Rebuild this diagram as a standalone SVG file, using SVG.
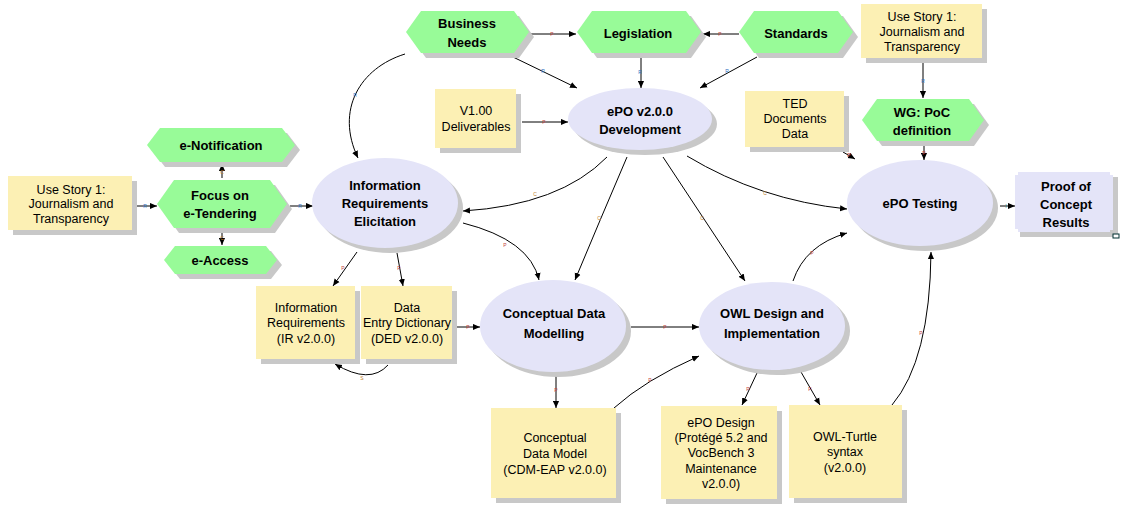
<svg xmlns="http://www.w3.org/2000/svg" width="1124" height="532" viewBox="0 0 1124 532">
<defs>
<marker id="ah" viewBox="0 0 8 8" refX="8" refY="4" markerWidth="7" markerHeight="7" markerUnits="userSpaceOnUse" orient="auto">
<path d="M0,0.5 L8,4 L0,7.5 z" fill="#000"/>
</marker>
</defs>
<style>
.sh{fill:#C8C8C8}
.hex{fill:#98FB98}
.box{fill:#FCF0B4}
.ell{fill:#E4E4F8}
.bt{font-family:"Liberation Sans",Arial,sans-serif;font-size:13px;font-weight:bold;fill:#000;text-anchor:middle}
.nt{font-family:"Liberation Sans",Arial,sans-serif;font-size:12.5px;fill:#000;text-anchor:middle}
.cn{fill:none;stroke:#000;stroke-width:1;marker-end:url(#ah)}
.lb{font-family:"Liberation Sans",Arial,sans-serif;font-size:5px;text-anchor:middle}
.p{fill:#C04040}.r{fill:#3070C0}.c{fill:#C08030}.i{fill:#208080}
</style>
<rect width="1124" height="532" fill="#fff"/>

<g id="connectors">
<path class="cn" d="M531,34 L576,34"/>
<path class="cn" d="M739,34 L703,34"/>
<path class="cn" d="M513,57 L577,88"/>
<path class="cn" d="M641,57 L641,88"/>
<path class="cn" d="M757,57 L700,88"/>
<path class="cn" d="M522,122 L568,122"/>
<path class="cn" d="M843,152 L855,159"/>
<path class="cn" d="M923,62 L923,98"/>
<path class="cn" d="M924,145 L924,160"/>
<path class="cn" d="M137,206 L157,206"/>
<path class="cn" d="M222,178 L222,164"/>
<path class="cn" d="M222,231 L222,245"/>
<path class="cn" d="M290,206 L313,206"/>
<path class="cn" d="M405,54 C360,68 335,110 358,158"/>
<path class="cn" d="M607,157 Q560,205 463,211"/>
<path class="cn" d="M627,157 Q600,220 575,280"/>
<path class="cn" d="M463,223 Q530,240 539,280"/>
<path class="cn" d="M357,252 L333,286"/>
<path class="cn" d="M397,253 L403,286"/>
<path class="cn" d="M388,365 Q370,385 335,364"/>
<path class="cn" d="M457,327 L480,327"/>
<path class="cn" d="M556,373 L556,408"/>
<path class="cn" d="M614,408 Q645,380 699,356"/>
<path class="cn" d="M631,327 L699,327"/>
<path class="cn" d="M663,157 L745,281"/>
<path class="cn" d="M687,156 Q760,200 847,209"/>
<path class="cn" d="M793,281 Q805,245 847,233"/>
<path class="cn" d="M892,405 Q930,360 931,252"/>
<path class="cn" d="M757,373 L742,405"/>
<path class="cn" d="M801,372 L820,405"/>
<path class="cn" d="M1000,206 L1015,206"/>
<text class="lb p" x="552" y="36">P</text>
<text class="lb p" x="720" y="36">P</text>
<text class="lb r" x="543" y="73">R</text>
<text class="lb r" x="640" y="74">R</text>
<text class="lb r" x="727" y="73">R</text>
<text class="lb p" x="544" y="124">P</text>
<text class="lb p" x="849" y="157">P</text>
<text class="lb r" x="923" y="83">R</text>
<text class="lb p" x="924" y="155">P</text>
<text class="lb r" x="145" y="208">R</text>
<text class="lb c" x="222" y="174">C</text>
<text class="lb c" x="222" y="240">C</text>
<text class="lb r" x="300" y="208">R</text>
<text class="lb r" x="355" y="97">R</text>
<text class="lb c" x="535" y="196">C</text>
<text class="lb c" x="599" y="220">C</text>
<text class="lb p" x="505" y="247">P</text>
<text class="lb p" x="343" y="270">P</text>
<text class="lb p" x="399" y="270">P</text>
<text class="lb c" x="362" y="380">S</text>
<text class="lb p" x="468" y="329">P</text>
<text class="lb p" x="556" y="392">P</text>
<text class="lb p" x="650" y="382">P</text>
<text class="lb p" x="665" y="329">P</text>
<text class="lb c" x="702" y="220">C</text>
<text class="lb c" x="765" y="195">C</text>
<text class="lb p" x="812" y="255">P</text>
<text class="lb p" x="921" y="335">P</text>
<text class="lb p" x="748" y="391">P</text>
<text class="lb p" x="810" y="391">P</text>
<text class="lb i" x="1006" y="208">I</text>
</g>

<g id="business-needs">
<polygon class="sh" points="411,37 426,16 519,16 534,37 519,58 426,58"/>
<polygon class="hex" points="406,32 421,11 514,11 529,32 514,53 421,53"/>
<text class="bt" x="467" y="27.5">Business</text>
<text class="bt" x="467" y="46.5">Needs</text>
</g>
<g id="legislation">
<polygon class="sh" points="582,37 597,16 691,16 706,37 691,58 597,58"/>
<polygon class="hex" points="577,32 592,11 686,11 701,32 686,53 592,53"/>
<text class="bt" x="638" y="37.5">Legislation</text>
</g>
<g id="standards">
<polygon class="sh" points="744,37 759,16 843,16 858,37 843,58 759,58"/>
<polygon class="hex" points="739,32 754,11 838,11 853,32 838,53 754,53"/>
<text class="bt" x="796" y="37.5">Standards</text>
</g>
<g id="use-story-top">
<rect class="sh" x="866" y="9" width="121" height="54"/>
<rect class="box" x="861" y="4" width="121" height="54"/>
<text class="nt" x="922" y="21">Use Story 1:</text>
<text class="nt" x="922" y="36">Journalism and</text>
<text class="nt" x="922" y="51">Transparency</text>
</g>
<g id="wg-poc">
<polygon class="sh" points="867,125 882,104 974,104 989,125 974,146 882,146"/>
<polygon class="hex" points="862,120 877,99 969,99 984,120 969,141 877,141"/>
<text class="bt" x="922" y="116.5">WG: PoC</text>
<text class="bt" x="922" y="134.5">definition</text>
</g>
<g id="v100">
<rect class="sh" x="440" y="94" width="81" height="59"/>
<rect class="box" x="435" y="89" width="81" height="59"/>
<text class="nt" x="476" y="115">V1.00</text>
<text class="nt" x="476" y="131">Deliverables</text>
</g>
<g id="epo-dev">
<ellipse class="sh" cx="645" cy="124" rx="72" ry="31"/>
<ellipse class="ell" cx="640" cy="119" rx="72" ry="31"/>
<text class="bt" x="640" y="115.5">ePO v2.0.0</text>
<text class="bt" x="640" y="133.5">Development</text>
</g>
<g id="ted">
<rect class="sh" x="750" y="96" width="99" height="56"/>
<rect class="box" x="745" y="91" width="99" height="56"/>
<text class="nt" x="795" y="108">TED</text>
<text class="nt" x="795" y="123">Documents</text>
<text class="nt" x="795" y="138">Data</text>
</g>
<g id="use-story-left">
<rect class="sh" x="13" y="181" width="124" height="54"/>
<rect class="box" x="8" y="176" width="124" height="54"/>
<text class="nt" x="71" y="194">Use Story 1:</text>
<text class="nt" x="71" y="208">Journalism and</text>
<text class="nt" x="71" y="223">Transparency</text>
</g>
<g id="e-notification">
<polygon class="sh" points="152,150 165,133 287,133 300,150 287,167 165,167"/>
<polygon class="hex" points="147,145 160,128 282,128 295,145 282,162 160,162"/>
<text class="bt" x="221" y="149.5">e-Notification</text>
</g>
<g id="focus">
<polygon class="sh" points="162,209 179,185 275,185 292,209 275,233 179,233"/>
<polygon class="hex" points="157,204 174,180 270,180 287,204 270,228 174,228"/>
<text class="bt" x="220" y="199.5">Focus on</text>
<text class="bt" x="220" y="217.5">e-Tendering</text>
</g>
<g id="e-access">
<polygon class="sh" points="169,265 180,251 271,251 282,265 271,279 180,279"/>
<polygon class="hex" points="164,260 175,246 266,246 277,260 266,274 175,274"/>
<text class="bt" x="220" y="264.5">e-Access</text>
</g>
<g id="ire">
<ellipse class="sh" cx="390" cy="208" rx="73" ry="45"/>
<ellipse class="ell" cx="385" cy="203" rx="73" ry="45"/>
<text class="bt" x="385" y="189.5">Information</text>
<text class="bt" x="385" y="207.5">Requirements</text>
<text class="bt" x="385" y="225.5">Elicitation</text>
</g>
<g id="ir">
<rect class="sh" x="261" y="291" width="99" height="73"/>
<rect class="box" x="256" y="286" width="99" height="73"/>
<text class="nt" x="306" y="312">Information</text>
<text class="nt" x="306" y="327">Requirements</text>
<text class="nt" x="306" y="343">(IR v2.0.0)</text>
</g>
<g id="ded">
<rect class="sh" x="366" y="291" width="91" height="73"/>
<rect class="box" x="361" y="286" width="91" height="73"/>
<text class="nt" x="407" y="312">Data</text>
<text class="nt" x="407" y="327">Entry Dictionary</text>
<text class="nt" x="407" y="343">(DED v2.0.0)</text>
</g>
<g id="cdm">
<ellipse class="sh" cx="558" cy="331" rx="73" ry="46"/>
<ellipse class="ell" cx="553" cy="326" rx="73" ry="46"/>
<text class="bt" x="554" y="317.5">Conceptual Data</text>
<text class="bt" x="554" y="337.5">Modelling</text>
</g>
<g id="cdm-box">
<rect class="sh" x="496" y="413" width="125" height="90"/>
<rect class="box" x="491" y="408" width="125" height="90"/>
<text class="nt" x="555" y="442">Conceptual</text>
<text class="nt" x="555" y="458">Data Model</text>
<text class="nt" x="555" y="474">(CDM-EAP v2.0.0)</text>
</g>
<g id="owl">
<ellipse class="sh" cx="777" cy="331" rx="73" ry="44"/>
<ellipse class="ell" cx="772" cy="326" rx="73" ry="44"/>
<text class="bt" x="772" y="317.5">OWL Design and</text>
<text class="bt" x="772" y="337.5">Implementation</text>
</g>
<g id="epo-design">
<rect class="sh" x="666" y="411" width="116" height="93"/>
<rect class="box" x="661" y="406" width="116" height="93"/>
<text class="nt" x="721" y="427">ePO Design</text>
<text class="nt" x="721" y="442">(Protégé 5.2 and</text>
<text class="nt" x="721" y="457">VocBench 3</text>
<text class="nt" x="721" y="473">Maintenance</text>
<text class="nt" x="721" y="488">v2.0.0)</text>
</g>
<g id="owl-turtle">
<rect class="sh" x="794" y="410" width="113" height="93"/>
<rect class="box" x="789" y="405" width="113" height="93"/>
<text class="nt" x="845" y="441">OWL-Turtle</text>
<text class="nt" x="845" y="456">syntax</text>
<text class="nt" x="845" y="472">(v2.0.0)</text>
</g>
<g id="epo-testing">
<ellipse class="sh" cx="925" cy="208" rx="73" ry="43"/>
<ellipse class="ell" cx="920" cy="203" rx="73" ry="43"/>
<text class="bt" x="920" y="207.5">ePO Testing</text>
</g>
<g id="proof">
<rect class="sh" x="1020" y="177" width="98" height="60"/>
<polygon class="ell" points="1018,172 1110,172 1110,175 1113,175 1113,230 1110,230 1110,232 1018,232 1018,229 1015,229 1015,175 1018,175"/>
<text class="bt" x="1066" y="190.5">Proof of</text>
<text class="bt" x="1066" y="208.5">Concept</text>
<text class="bt" x="1066" y="226.5">Results</text>
<rect x="1113" y="234" width="6" height="4" fill="#fff" stroke="#003030" stroke-width="1"/>
</g>
</svg>
